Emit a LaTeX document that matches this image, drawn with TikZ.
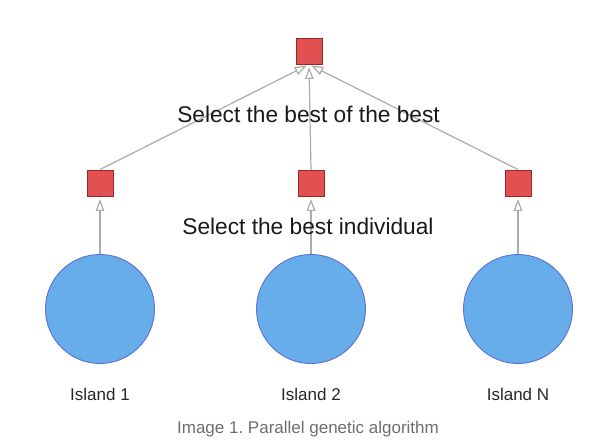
\documentclass[tikz,border=0pt]{standalone}
\usepackage{fontspec}
\setmainfont{Liberation Sans}
\usetikzlibrary{arrows.meta}
\definecolor{boxred}{HTML}{E25151}
\definecolor{boxborder}{HTML}{9A2626}
\definecolor{islandblue}{HTML}{66ADEA}
\definecolor{islandborder}{HTML}{5B6FD6}
\definecolor{linkgray}{HTML}{ABABAB}
\definecolor{captiongray}{HTML}{6E6E6E}
\frenchspacing
\begin{document}
\begin{tikzpicture}[x=1pt,y=-1pt,
    best/.style={draw=boxborder,fill=boxred,line width=0.9pt,minimum size=26pt,inner sep=0pt},
    island/.style={circle,draw=islandborder,fill=islandblue,line width=0.9pt,minimum size=109pt,inner sep=0pt},
    link/.style={draw=linkgray,line width=1.2pt,shorten >=2.5pt,-{Triangle[open,length=12pt,width=8.5pt]}},
    stagetext/.style={anchor=base,text=black!90,font=\fontsize{22.7}{27}\selectfont},
    islandtext/.style={anchor=base,text=black!85,font=\fontsize{17}{20}\selectfont}]
            \useasboundingbox (0,0) rectangle (613,444);
            % Islands
            \node[island](i1) at (100,309){};
            \node[island](i2) at (311,309){};
            \node[island](iN) at (518,309){};
            % Best individuals
            \node[best](b1) at (100,183){};
            \node[best](b2) at (311,183){};
            \node[best](bN) at (518,183){};
            \node[best](top) at (309,51){};
            % Links
            \draw[link](i1.north)--(b1.south);
            \draw[link](i2.north)--(b2.south);
            \draw[link](iN.north)--(bN.south);
            \draw[link](b1.north)--(top.south);
            \draw[link](b2.north)--(top.south);
            \draw[link](bN.north)--(top.south);
            % Texts
            \node[stagetext](t1) at (308.5,122){Select the best of the best};
            \node[stagetext](t2) at (308,234){Select the best individual};
            \node[islandtext](l1) at (100,400){Island 1};
            \node[islandtext](l2) at (311,400){Island 2};
            \node[islandtext](lN) at (518,400){Island N};
            \node[anchor=base,text=captiongray,font=\fontsize{17}{20}\selectfont](cap) at (308,433){Image 1. Parallel genetic algorithm};
        \end{tikzpicture}
\end{document}
